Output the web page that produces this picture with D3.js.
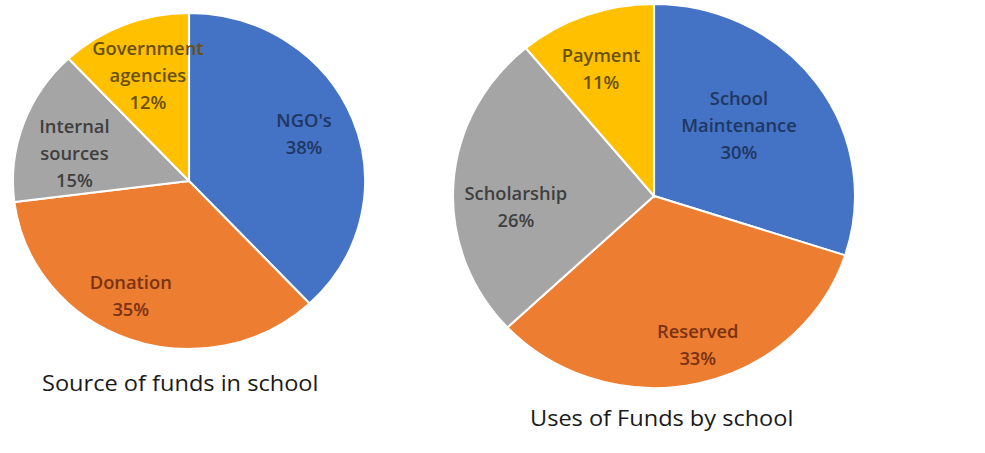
<!DOCTYPE html>
<html>
<head>
<meta charset="utf-8">
<script src="https://cdn.jsdelivr.net/npm/d3@7"></script>
<style>
  html, body { margin: 0; padding: 0; background: #ffffff; }
  svg { display: block; }
</style>
</head>
<body>
<svg id="chart" width="985" height="453"></svg>
<script>
// ---- data ----
const sourceCategories = ["NGO's", "Donation", "Internal sources", "Government agencies"];
const sourceValues = [38, 35, 15, 12];
const usesCategories = ["School Maintenance", "Reserved", "Scholarship", "Payment"];
const usesValues = [30, 33, 26, 11];
const sourceTitle = "Source of funds in school";
const usesTitle = "Uses of Funds by school";

// ---- styles / layout ----
const sliceColors = ["#4472C4", "#ED7D31", "#A5A5A5", "#FFC000"];
const labelColors = ["#1f3763", "#7a3210", "#3f3f3f", "#6a5108"];
const FONT = "'Open Sans', 'DejaVu Sans', sans-serif";

// label placement: [radius fraction, angle nudge in degrees]
const sourceLabelLayout = [[0.71, -1.4], [0.76, 6], [0.67, -6], [0.67, 1.2]];
const usesLabelLayout = [[0.56, -5], [0.81, -3], [0.69, -8.6], [0.71, -2]];

const svg = d3.select("#chart");

function drawPie(cfg) {
  const g = svg.append("g")
    .attr("transform", `translate(${cfg.cx},${cfg.cy}) scale(${cfg.sx},1)`);
  const pie = d3.pie().sort(null).value(d => d.value);
  const arcs = pie(cfg.categories.map((c, i) => ({ name: c, value: cfg.values[i], i })));
  const arc = d3.arc().innerRadius(0).outerRadius(cfg.r);

  g.selectAll("path.slice")
    .data(arcs)
    .join("path")
    .attr("class", "slice")
    .attr("d", arc)
    .attr("fill", d => sliceColors[d.data.i])
    .attr("stroke", "#ffffff")
    .attr("stroke-width", 2);

  const lh = 27;
  arcs.forEach(d => {
    const [rf, da] = cfg.layout[d.data.i];
    const a = (d.startAngle + d.endAngle) / 2 + da * Math.PI / 180;
    const rr = cfg.r * rf;
    const x = rr * Math.sin(a);
    const y = -rr * Math.cos(a);
    const lines = d.data.name.split(" ").concat([d.data.value + "%"]);
    const t = g.append("text")
      .attr("text-anchor", "middle")
      .attr("font-family", FONT)
      .attr("font-weight", 600)
      .attr("font-size", 17.5)
      .attr("fill", labelColors[d.data.i]);
    lines.forEach((ln, k) => {
      t.append("tspan")
        .attr("x", x)
        .attr("y", y + (k - (lines.length - 1) / 2) * lh)
        .attr("dy", "0.35em")
        .text(ln);
    });
  });

  svg.append("text")
    .attr("transform", `translate(${cfg.tx},${cfg.ty}) scale(${cfg.sx},1)`)
    .attr("font-family", FONT)
    .attr("font-size", 22.5)
    .attr("fill", "#1a1a1a")
    .text(cfg.title);
}

drawPie({
  categories: sourceCategories, values: sourceValues, layout: sourceLabelLayout,
  cx: 189, cy: 181, r: 168, sx: 1.048,
  title: sourceTitle, tx: 42, ty: 391
});
drawPie({
  categories: usesCategories, values: usesValues, layout: usesLabelLayout,
  cx: 654, cy: 196, r: 192, sx: 1.047,
  title: usesTitle, tx: 530, ty: 426
});
</script>
</body>
</html>
